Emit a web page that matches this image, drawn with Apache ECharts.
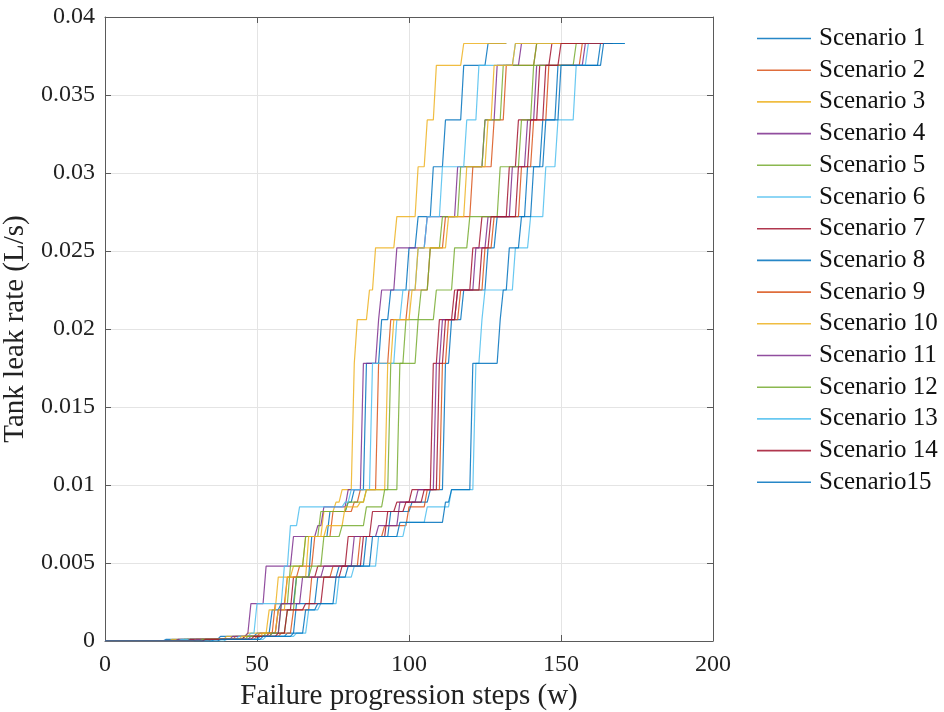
<!DOCTYPE html>
<html><head><meta charset="utf-8">
<script src="https://cdn.jsdelivr.net/npm/echarts@6/dist/echarts.min.js"></script>
<style>html,body{margin:0;padding:0;background:#fff}#c{width:944px;height:712px}</style>
</head><body><div id="c"></div>
<script>
// ---- data (change points: [step, new leak rate]) ----
const seriesNames = ['Scenario 1','Scenario 2','Scenario 3','Scenario 4','Scenario 5','Scenario 6','Scenario 7','Scenario 8','Scenario 9','Scenario 10','Scenario 11','Scenario 12','Scenario 13','Scenario 14','Scenario15'];
const lineColors = ['#0072BD','#D95319','#EDB120','#7E2F8E','#77AC30','#4DBEEE','#A2142F'];
const xTickValues = [0, 50, 100, 150, 200];
const yTickValues = [0, 0.005, 0.01, 0.015, 0.02, 0.025, 0.03, 0.035, 0.04];
const endSteps = [132, 170, 132, 168, 167, 168, 170, 170, 169, 166, 168, 169, 171, 167, 171];

const scenario1 = [[20,0.0001],[38,0.0003],[50,0.0005],[55,0.0020],[58,0.0024],[63,0.0041],[68,0.0067],[74,0.0083],[80,0.0089],[82,0.0097],[86,0.0178],[91,0.0206],[94,0.0225],[100,0.0252],[103,0.0272],[108,0.0304],[112,0.0334],[118,0.0369],[126,0.0383]];
const scenario2 = [[27,0.0001],[43,0.0003],[51,0.0005],[56,0.0024],[60,0.0041],[64,0.0048],[69,0.0067],[75,0.0083],[82,0.0089],[84,0.0097],[90,0.0178],[94,0.0206],[100,0.0225],[107,0.0252],[112,0.0272],[121,0.0304],[128,0.0334],[132,0.0369],[142,0.0383]];
const scenario3 = [[22,0.0001],[40,0.0003],[47,0.0005],[54,0.0020],[57,0.0041],[62,0.0048],[66,0.0067],[72,0.0083],[76,0.0089],[78,0.0097],[82,0.0178],[83,0.0206],[87,0.0225],[89,0.0252],[96,0.0272],[103,0.0304],[106,0.0334],[109,0.0369],[118,0.0383]];
const scenario4 = [[24,0.0001],[42,0.0003],[47,0.0005],[48,0.0024],[53,0.0048],[62,0.0067],[70,0.0074],[72,0.0086],[80,0.0097],[85,0.0178],[90,0.0206],[91,0.0225],[96,0.0252],[106,0.0272],[116,0.0304],[125,0.0334],[129,0.0369],[137,0.0383]];
const scenario5 = [[26,0.0001],[46,0.0003],[53,0.0005],[58,0.0024],[61,0.0048],[66,0.0067],[71,0.0083],[80,0.0089],[86,0.0097],[94,0.0178],[99,0.0206],[104,0.0225],[107,0.0252],[111,0.0272],[117,0.0304],[125,0.0334],[131,0.0369],[142,0.0383]];
const scenario6 = [[25,0.0001],[44,0.0003],[48,0.0005],[50,0.0024],[59,0.0048],[61,0.0074],[64,0.0086],[79,0.0089],[81,0.0097],[88,0.0178],[96,0.0206],[98,0.0225],[103,0.0252],[106,0.0272],[111,0.0304],[119,0.0334],[123,0.0369],[135,0.0383]];
const scenario7 = [[28,0.0001],[46,0.0003],[54,0.0005],[57,0.0020],[62,0.0041],[70,0.0048],[80,0.0067],[88,0.0083],[96,0.0089],[101,0.0097],[108,0.0178],[110,0.0206],[115,0.0225],[121,0.0252],[124,0.0272],[133,0.0304],[136,0.0334],[143,0.0369],[147,0.0383]];
const scenario8 = [[36,0.0001],[51,0.0003],[60,0.0005],[63,0.0024],[70,0.0041],[77,0.0048],[86,0.0067],[94,0.0083],[101,0.0089],[107,0.0097],[112,0.0178],[114,0.0206],[118,0.0225],[126,0.0252],[129,0.0272],[139,0.0304],[144,0.0334],[149,0.0369],[163,0.0383]];
const scenario9 = [[35,0.0001],[50,0.0003],[58,0.0005],[62,0.0020],[68,0.0041],[75,0.0048],[84,0.0067],[92,0.0074],[100,0.0086],[106,0.0097],[111,0.0178],[113,0.0206],[117,0.0225],[125,0.0252],[128,0.0272],[137,0.0304],[141,0.0334],[146,0.0369],[157,0.0383]];
const scenario10 = [[30,0.0001],[45,0.0003],[52,0.0005],[57,0.0020],[60,0.0041],[67,0.0067],[73,0.0074],[79,0.0086],[84,0.0089],[86,0.0097],[93,0.0178],[95,0.0206],[101,0.0225],[103,0.0252],[113,0.0272],[119,0.0304],[126,0.0334],[128,0.0369],[135,0.0383]];
const scenario11 = [[30,0.0001],[48,0.0003],[55,0.0005],[58,0.0024],[65,0.0041],[72,0.0048],[82,0.0067],[90,0.0074],[97,0.0089],[103,0.0097],[109,0.0178],[111,0.0206],[116,0.0225],[122,0.0252],[126,0.0272],[134,0.0304],[139,0.0334],[142,0.0369],[158,0.0383]];
const scenario12 = [[32,0.0001],[47,0.0003],[55,0.0005],[60,0.0020],[63,0.0041],[68,0.0048],[72,0.0067],[78,0.0074],[86,0.0086],[92,0.0097],[97,0.0178],[103,0.0206],[109,0.0225],[115,0.0252],[120,0.0272],[130,0.0304],[137,0.0334],[141,0.0369],[155,0.0383]];
const scenario13 = [[40,0.0001],[53,0.0003],[63,0.0005],[67,0.0020],[71,0.0024],[77,0.0041],[82,0.0048],[90,0.0067],[99,0.0076],[106,0.0086],[114,0.0097],[122,0.0178],[124,0.0206],[125,0.0225],[135,0.0252],[140,0.0272],[145,0.0304],[149,0.0334],[155,0.0369],[159,0.0383]];
const scenario14 = [[33,0.0001],[49,0.0003],[57,0.0005],[60,0.0020],[66,0.0024],[72,0.0041],[78,0.0048],[85,0.0067],[93,0.0083],[99,0.0089],[105,0.0097],[110,0.0178],[112,0.0206],[116,0.0225],[124,0.0252],[127,0.0272],[136,0.0304],[140,0.0334],[145,0.0369],[150,0.0383]];
const scenario15 = [[38,0.0001],[52,0.0003],[62,0.0005],[66,0.0020],[70,0.0024],[76,0.0041],[80,0.0048],[88,0.0067],[97,0.0076],[112,0.0089],[114,0.0097],[121,0.0178],[130,0.0206],[131,0.0225],[133,0.0252],[137,0.0272],[141,0.0304],[145,0.0334],[150,0.0369],[164,0.0383]];

const allScenarios = [scenario1,scenario2,scenario3,scenario4,scenario5,scenario6,scenario7,scenario8,scenario9,scenario10,scenario11,scenario12,scenario13,scenario14,scenario15];

// expand change points into a polyline (value holds until the step before each change)
function buildPath(changes, endStep) {
  const pts = [[0, 0]];
  let lastStep = 0, lastVal = 0;
  changes.forEach(([s, v]) => {
    if (s - 1 > lastStep) pts.push([s - 1, lastVal]);
    pts.push([s, v]);
    lastStep = s; lastVal = v;
  });
  if (endStep > lastStep) pts.push([endStep, lastVal]);
  return pts;
}

const FONT = '"Liberation Serif", "Times New Roman", serif';
const axisColor = '#5a5a5a';
const chart = echarts.init(document.getElementById('c'), null, {renderer: 'canvas'});

const series = allScenarios.map((ch, i) => ({
  name: seriesNames[i],
  type: 'line',
  xAxisIndex: 0, yAxisIndex: 0,
  data: buildPath(ch, endSteps[i]),
  symbol: 'none',
  showSymbol: false,
  color: lineColors[i % lineColors.length],
  lineStyle: {width: 1.2, opacity: 0.85},
  emphasis: {disabled: true},
  z: 3 + i
}));

const fmt = v => String(+(+v).toFixed(3));

chart.setOption({
  animation: false,
  backgroundColor: '#fff',
  grid: {left: 105, right: 231, top: 17, bottom: 71, containLabel: false, outerBoundsMode: 'none'},
  legend: {
    orient: 'vertical', left: 752, top: 21,
    icon: 'rect',
    itemWidth: 54, itemHeight: 1.6, itemGap: 6.7,
    itemStyle: {opacity: 0.85},
    textStyle: {fontFamily: FONT, fontSize: 25, color: '#111', lineHeight: 25, padding: [0, 0, 0, 3]},
    data: seriesNames
  },
  xAxis: [{
    type: 'value', min: 0, max: 200, interval: 50, position: 'bottom',
    axisLine: {show: true, onZero: false, lineStyle: {color: axisColor, width: 1}},
    axisTick: {show: true, inside: true, length: 6, lineStyle: {color: axisColor}},
    axisLabel: {fontFamily: FONT, fontSize: 24, color: '#222', margin: 12, formatter: v => xTickValues.includes(v) ? String(v) : ''},
    splitLine: {show: true, lineStyle: {color: '#e4e4e4', width: 1}},
    name: 'Failure progression steps (w)', nameLocation: 'middle', nameGap: 33,
    nameTextStyle: {fontFamily: FONT, fontSize: 29, color: '#222'}
  }, {
    type: 'value', min: 0, max: 200, interval: 50, position: 'top',
    axisLine: {show: true, onZero: false, lineStyle: {color: axisColor, width: 1}},
    axisTick: {show: true, inside: true, length: 6, lineStyle: {color: axisColor}},
    axisLabel: {show: false}, splitLine: {show: false}
  }],
  yAxis: [{
    type: 'value', min: 0, max: 0.04, interval: 0.005, position: 'left',
    axisLine: {show: true, onZero: false, lineStyle: {color: axisColor, width: 1}},
    axisTick: {show: true, inside: true, length: 6, lineStyle: {color: axisColor}},
    axisLabel: {fontFamily: FONT, fontSize: 24, color: '#222', margin: 10, formatter: fmt},
    splitLine: {show: true, lineStyle: {color: '#e4e4e4', width: 1}},
    name: 'Tank leak rate (L/s)', nameLocation: 'middle', nameGap: 72,
    nameTextStyle: {fontFamily: FONT, fontSize: 29, color: '#222'}
  }, {
    type: 'value', min: 0, max: 0.04, interval: 0.005, position: 'right',
    axisLine: {show: true, onZero: false, lineStyle: {color: axisColor, width: 1}},
    axisTick: {show: true, inside: true, length: 6, lineStyle: {color: axisColor}},
    axisLabel: {show: false}, splitLine: {show: false}
  }],
  series: series
});
</script>
</body></html>
